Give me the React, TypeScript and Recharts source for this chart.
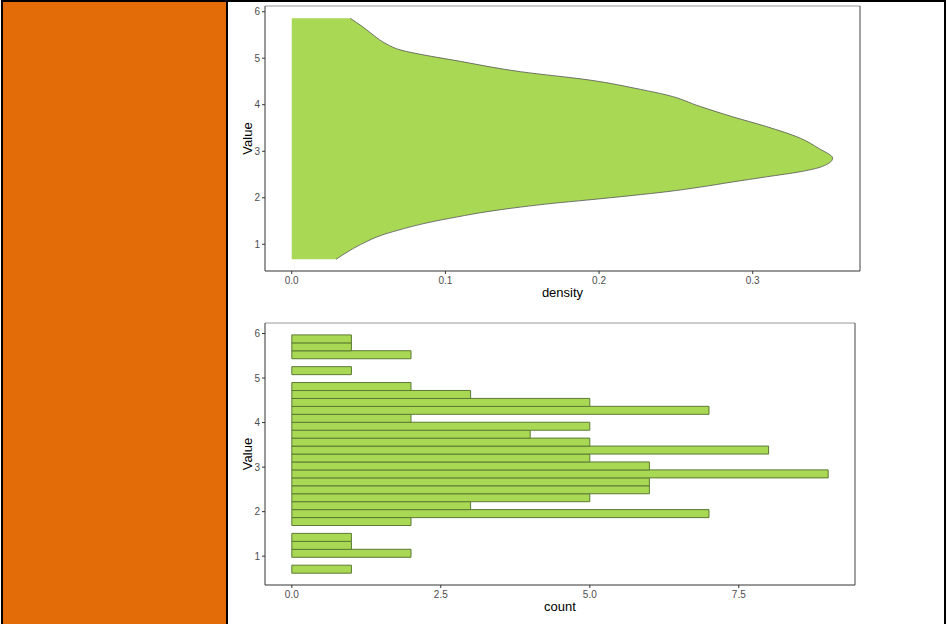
import React from 'react';
import { ComposedChart, Area, Bar, XAxis, YAxis, ReferenceLine } from 'recharts';

// density curve (value on y, density on x)
const densityValue = [0.68, 0.87, 1.03, 1.19, 1.30, 1.46, 1.59, 1.70, 1.80, 1.88, 1.95, 2.05, 2.13, 2.23, 2.34, 2.45, 2.56, 2.67, 2.85, 3.06, 3.28, 3.53, 3.74, 3.96, 4.21, 4.33, 4.53, 4.71, 4.96, 5.04, 5.18, 5.30, 5.40, 5.50, 5.68, 5.86];
const densityLevel = [0.029, 0.038, 0.047, 0.058, 0.069, 0.088, 0.108, 0.127, 0.149, 0.170, 0.192, 0.222, 0.244, 0.266, 0.287, 0.309, 0.331, 0.345, 0.352, 0.343, 0.331, 0.309, 0.287, 0.266, 0.244, 0.227, 0.194, 0.149, 0.105, 0.091, 0.0705, 0.062, 0.057, 0.053, 0.046, 0.038];

// histogram bins (30 bins), bottom to top
const binCenters = [0.709, 0.888, 1.066, 1.244, 1.423, 1.601, 1.779, 1.957, 2.136, 2.314, 2.492, 2.671, 2.849, 3.027, 3.206, 3.384, 3.562, 3.741, 3.919, 4.097, 4.276, 4.454, 4.632, 4.810, 4.989, 5.167, 5.345, 5.524, 5.702, 5.880];
const binCounts = [1, 0, 2, 1, 1, 0, 2, 7, 3, 5, 6, 6, 9, 6, 5, 8, 5, 4, 5, 2, 7, 5, 3, 2, 0, 1, 0, 2, 1, 1];

const valueTicks = [1, 2, 3, 4, 5, 6];
const densityTicks = [0, 0.1, 0.2, 0.3];
const countTicks = [0, 2.5, 5, 7.5];

const densityData = densityValue.map((v, i) => ({ value: v, density: densityLevel[i] }));
const histData = binCenters.map((c, i) => ({ value: c, count: binCounts[i] }));

const FONT = '"Liberation Sans", Arial, sans-serif';
const FILL = '#A8D854';
const tickStyle = { fill: '#4D4D4D', fontSize: 10, fontFamily: FONT };
const titleStyle = { fill: '#000', fontSize: 13, fontFamily: FONT };
const fmt1 = (v: number) => v.toFixed(1);

const topX: [number, number] = [-0.0174, 0.3698];
const topY: [number, number] = [0.425, 6.123];
const botX: [number, number] = [-0.45, 9.45];
const botY: [number, number] = [0.353, 6.236];

const App: React.FC = () => {
  return (
    <div style={{ position: 'absolute', left: 0, top: 0, width: 947, height: 624, overflow: 'hidden', background: '#fff' }}>
      <div style={{ position: 'absolute', left: 1, top: 0, width: 941, height: 700, borderTop: '2px solid #000', borderLeft: '2px solid #000', borderRight: '2px solid #000' }} />
      <div style={{ position: 'absolute', left: 3, top: 2, width: 223, height: 700, background: '#E36C09', borderRight: '2px solid #000' }} />

      <div style={{ position: 'absolute', left: 230, top: 0 }}>
        <ComposedChart width={640} height={310} layout="vertical" data={densityData} margin={{ top: 6, right: 10, left: 0, bottom: 0 }}>
          <XAxis
            type="number"
            domain={topX}
            ticks={densityTicks}
            tickFormatter={fmt1}
            allowDataOverflow
            height={39}
            tickSize={3}
            tickMargin={3}
            tick={tickStyle}
            axisLine={{ stroke: '#333' }}
            tickLine={{ stroke: '#333' }}
            label={{ value: 'density', position: 'insideBottom', offset: 13, style: titleStyle }}
          />
          <YAxis
            type="number"
            dataKey="value"
            domain={topY}
            reversed
            allowDataOverflow
            ticks={valueTicks}
            width={35}
            tickSize={3}
            tickMargin={2}
            tick={tickStyle}
            axisLine={{ stroke: '#333' }}
            tickLine={{ stroke: '#333' }}
            label={{ value: 'Value', angle: -90, position: 'insideLeft', offset: 17, style: { ...titleStyle, textAnchor: 'middle' } }}
          />
          <Area dataKey="density" type="monotone" fill={FILL} fillOpacity={1} stroke="#555" strokeWidth={0.8} isAnimationActive={false} />
          <ReferenceLine y={topY[1]} stroke="#999" strokeWidth={1} ifOverflow="visible" />
          <ReferenceLine x={topX[1]} stroke="#444" strokeWidth={1} ifOverflow="visible" />
        </ComposedChart>
      </div>

      <div style={{ position: 'absolute', left: 230, top: 310 }}>
        <ComposedChart width={640} height={314} layout="vertical" data={histData} barCategoryGap={0} barGap={0} margin={{ top: 13, right: 15, left: 0, bottom: 0 }}>
          <XAxis
            type="number"
            domain={botX}
            ticks={countTicks}
            tickFormatter={fmt1}
            allowDataOverflow
            height={39}
            tickSize={3}
            tickMargin={3}
            tick={tickStyle}
            axisLine={{ stroke: '#333' }}
            tickLine={{ stroke: '#333' }}
            label={{ value: 'count', position: 'insideBottom', offset: 13, style: titleStyle }}
          />
          <YAxis
            type="number"
            dataKey="value"
            domain={botY}
            reversed
            allowDataOverflow
            ticks={valueTicks}
            width={35}
            tickSize={3}
            tickMargin={2}
            tick={tickStyle}
            axisLine={{ stroke: '#333' }}
            tickLine={{ stroke: '#333' }}
            label={{ value: 'Value', angle: -90, position: 'insideLeft', offset: 17, style: { ...titleStyle, textAnchor: 'middle' } }}
          />
          <Bar dataKey="count" fill={FILL} stroke="#5c7a34" strokeWidth={1} isAnimationActive={false} />
          <ReferenceLine y={botY[1]} stroke="#999" strokeWidth={1} ifOverflow="visible" />
          <ReferenceLine x={botX[1]} stroke="#444" strokeWidth={1} ifOverflow="visible" />
        </ComposedChart>
      </div>
    </div>
  );
};

export default App;
